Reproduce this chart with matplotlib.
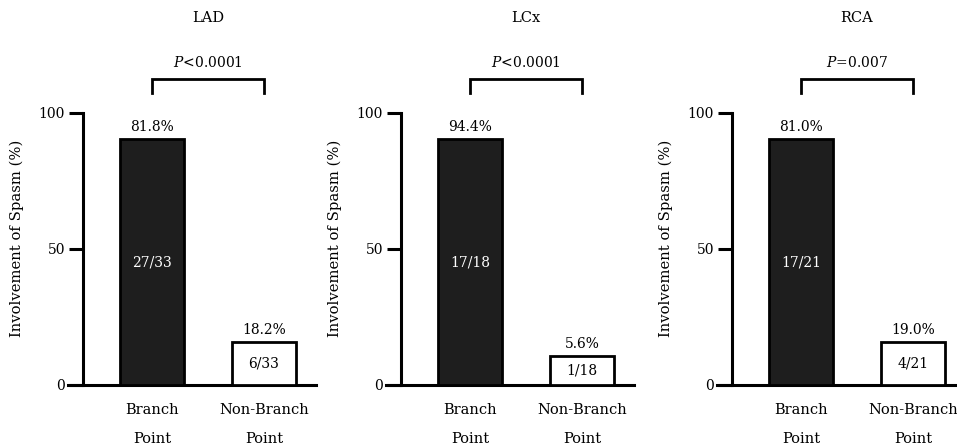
import matplotlib
matplotlib.use("Agg")
import matplotlib.pyplot as plt

plt.rcParams['font.family'] = ['DejaVu Serif']
plt.rcParams['mathtext.fontset'] = 'dejavuserif'

panels = ["LAD", "LCx", "RCA"]
categories = ["Branch\nPoint", "Non-Branch\nPoint"]
# bar heights as drawn in the figure
branch_heights = [90.4, 90.4, 90.4]
nonbranch_heights = [15.8, 10.7, 15.8]
branch_pct = ["81.8%", "94.4%", "81.0%"]
nonbranch_pct = ["18.2%", "5.6%", "19.0%"]
branch_frac = ["27/33", "17/18", "17/21"]
nonbranch_frac = ["6/33", "1/18", "4/21"]
p_values = ["$P$<0.0001", "$P$<0.0001", "$P$=0.007"]

W, H = 957, 446
fig = plt.figure(figsize=(W / 100, H / 100), dpi=100)

left_px = [83, 401, 732]
ax_w_px = 233
bottom_px = H - 385
ax_h_px = 272

fs = 10
for i, name in enumerate(panels):
    ax = fig.add_axes([left_px[i] / W, bottom_px / H, ax_w_px / W, ax_h_px / H])
    heights = [branch_heights[i], nonbranch_heights[i]]
    xs = [0, 1]
    ax.bar(xs, heights, width=0.57, color=["#1e1e1e", "white"],
           edgecolor="black", linewidth=2.0, zorder=3, clip_on=False)
    ax.set_xlim(-0.616, 1.464)
    ax.set_ylim(0, 100)
    for s in ["top", "right"]:
        ax.spines[s].set_visible(False)
    ax.spines["left"].set_linewidth(2.2)
    ax.spines["bottom"].set_linewidth(2.2)
    ax.spines["bottom"].set_bounds(-0.75, 1.464)
    ax.set_yticks([0, 50, 100])
    ax.set_yticklabels(["0", "50", "100"], fontsize=fs)
    ax.tick_params(axis="y", length=10, width=2.2, direction="out", pad=3)
    ax.set_xticks(xs)
    ax.set_xticklabels(categories, fontsize=10.5, linespacing=2.4)
    ax.tick_params(axis="x", length=0, pad=13)
    ax.set_ylabel("Involvement of Spasm (%)", fontsize=10.6)
    ax.yaxis.set_label_coords(-0.253, 0.54)

    # percentage labels above bars
    for x, h, t in zip(xs, heights, [branch_pct[i], nonbranch_pct[i]]):
        ax.annotate(t, (x, h), xytext=(0, 8.5), textcoords="offset points",
                    ha="center", va="center", fontsize=fs, annotation_clip=False)
    # fractions inside bars
    ax.text(0, heights[0] / 2, branch_frac[i], ha="center", va="center",
            fontsize=fs, color="white", zorder=4)
    ax.text(1, heights[1] / 2, nonbranch_frac[i], ha="center", va="center",
            fontsize=fs, color="black", zorder=4)

    # significance bracket
    ax.plot([0, 0, 1, 1], [107.4, 112.5, 112.5, 107.4], color="black",
            lw=2.0, clip_on=False, solid_joinstyle="miter")
    ax.text(0.5, 118.4, p_values[i], ha="center", va="center", fontsize=fs,
            clip_on=False)
    ax.text(0.5, 135.0, name, ha="center", va="center", fontsize=10.5,
            clip_on=False)

fig.savefig("out.png", dpi=100)
